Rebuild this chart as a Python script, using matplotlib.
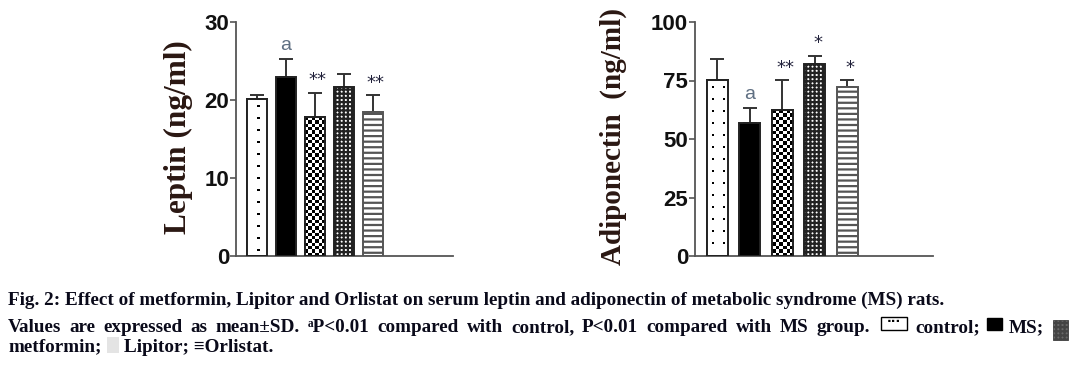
import numpy as np
import matplotlib
matplotlib.use("Agg")
import matplotlib.pyplot as plt
from matplotlib.patches import Rectangle

plt.rcParams["hatch.linewidth"] = 1.6

groups = ["control", "MS", "metformin", "Lipitor", "Orlistat"]
leptin = [20.1, 23.0, 17.8, 21.7, 18.5]
leptin_sd = [0.5, 2.3, 3.1, 1.6, 2.1]
leptin_marks = ["", "a", "**", "", "**"]
adipo = [75.1, 56.9, 62.3, 82.2, 72.3]
adipo_sd = [9.3, 6.4, 12.8, 3.2, 2.8]
adipo_marks = ["", "a", "**", "*", "*"]

W, H = 1071, 368
fig = plt.figure(figsize=(W / 100, H / 100), dpi=100)


def px_axes(x0, x1, y0, y1):
    return fig.add_axes([x0 / W, (H - y1) / H, (x1 - x0) / W, (y1 - y0) / H])


def bar_px(ax, bar):
    x, w, h = bar.get_x(), bar.get_width(), bar.get_height()
    (px0, py0), (px1, py1) = ax.transData.transform([(x, 0), (x + w, h)])
    return abs(px1 - px0), abs(py1 - py0)


def fill_image(ax, bar, img):
    x, w, h = bar.get_x(), bar.get_width(), bar.get_height()
    im = ax.imshow(img, cmap="gray", vmin=0, vmax=1, extent=(x, x + w, 0, h),
                   aspect="auto", interpolation="nearest", zorder=2)
    im.set_clip_path(bar)


def checker(ax, bar):
    # checkerboard, square cells about 3.4 px
    wp, hp = bar_px(ax, bar)
    ncol = 6
    nrow = int(round(hp / (wp / ncol)))
    fill_image(ax, bar, np.indices((nrow, ncol)).sum(axis=0) % 2)


def dots(ax, bar, ncol):
    # sparse small dots, one image pixel per screen pixel
    wp, hp = bar_px(ax, bar)
    wp, hp = int(round(wp)), int(round(hp))
    img = np.ones((hp, wp))
    cols = np.linspace(0, wp, ncol + 2)[1:-1] if ncol == 1 else \
        np.linspace(wp * 0.25, wp * 0.72, ncol)
    for r in range(6, hp - 2, 12):
        for c in cols:
            c = int(c)
            img[r:r + 2, c:c + 2] = 0
    fill_image(ax, bar, img)


def panel(ax, vals, sd, marks, ymax, yticks, label, width, mark_off, label_x, label_fs,
          dot_cols):
    x = np.arange(len(vals))
    ax.set_ylim(0, ymax)
    styles = [dict(color="white", hatch=None), dict(color="black", hatch=None),
              dict(color="white", hatch=None), dict(color="white", hatch="++++"),
              dict(color="white", hatch="---")]
    bars = []
    for i, (v, st) in enumerate(zip(vals, styles)):
        b = ax.bar(x[i], v, width=width, color=st["color"], hatch=st["hatch"],
                   edgecolor="#222222", linewidth=1.4, zorder=1 if i in (0, 2) else 3)
        bars.append(b[0])
    bars[4].set_edgecolor("#555555")
    dots(ax, bars[0], dot_cols)
    checker(ax, bars[2])
    for i in (0, 2):
        ax.add_patch(Rectangle((bars[i].get_x(), 0), bars[i].get_width(),
                               bars[i].get_height(), fill=False, edgecolor="#222222",
                               linewidth=1.4, zorder=3))
    ax.errorbar(x, vals, yerr=[np.zeros(len(sd)), sd], fmt="none", ecolor="#333333",
                elinewidth=1.4, capsize=5, capthick=1.4, zorder=2)
    for i, m in enumerate(marks):
        if not m:
            continue
        top = vals[i] + sd[i] + mark_off
        if m == "a":
            ax.text(x[i], top, m, ha="center", va="bottom", fontsize=14,
                    color="#5f6f82", family="Liberation Sans")
        else:
            ax.text(x[i] + 0.1, top - mark_off * 0.2, m, ha="center", va="bottom",
                    fontsize=13, color="#20203a", family="DejaVu Sans")
    ax.set_yticks(yticks)
    ax.set_xticks([])
    for s in ["top", "right"]:
        ax.spines[s].set_visible(False)
    for s in ["left", "bottom"]:
        ax.spines[s].set_color("#555555")
        ax.spines[s].set_linewidth(1.3)
    ax.tick_params(axis="y", length=4, width=1.2, color="#555555", pad=1,
                   labelsize=16)
    for t in ax.get_yticklabels():
        t.set_fontweight("bold")
        t.set_family("Liberation Sans")
        t.set_color("#111111")
    ax.set_ylabel(label, fontsize=label_fs, fontweight="bold", family="Liberation Serif",
                  color="#2a1712")
    ax.yaxis.set_label_coords(label_x, 0.51)


ax1 = px_axes(236, 453, 22, 256)
ax1.set_xlim(-0.72, 6.76)
panel(ax1, leptin, leptin_sd, leptin_marks, 30, [0, 10, 20, 30], "Leptin (ng/ml)",
      0.69, 0.6, -0.2, 22.5, 1)

ax2 = px_axes(695, 933, 22, 256)
ax2.set_xlim(-0.69, 6.65)
panel(ax2, adipo, adipo_sd, adipo_marks, 100, [0, 25, 50, 75, 100],
      "Adiponectin  (ng/ml)", 0.65, 2.0, -0.285, 21, 2)

# caption
cap = dict(family=["Liberation Serif", "DejaVu Serif"], fontweight="bold",
           fontsize=13.8, color="#0a0a1a", va="center", ha="left")


def fx(p):
    return p / W


def fy(p):
    return (H - p) / H


fig.text(fx(8), fy(300), "Fig. 2: Effect of metformin, Lipitor and Orlistat on serum leptin "
         "and adiponectin of metabolic syndrome (MS) rats.", **cap)

# justified second line
line2 = ("Values are expressed as mean\u00b1SD. \u1d43P<0.01 compared with control, "
         "P<0.01 compared with MS group.").split(" ")
fig.canvas.draw()
r = fig.canvas.get_renderer()
words = [fig.text(0, fy(328), w, **cap) for w in line2]
widths = [t.get_window_extent(r).width for t in words]
gap = (870 - 8 - sum(widths)) / (len(words) - 1)
xpos = 8
for t, w in zip(words, widths):
    t.set_x(fx(xpos))
    xpos += w + gap

fig.add_artist(Rectangle((fx(881), fy(330)), fx(26), 13 / H, transform=fig.transFigure,
                         facecolor="white", edgecolor="black", linewidth=1.0))
fig.text(fx(894), fy(321), "\u00b7\u00b7\u00b7", fontsize=9, ha="center", va="center",
         fontweight="bold")
fig.text(fx(915), fy(328), "control;", **cap)
fig.add_artist(Rectangle((fx(987), fy(330)), fx(15), 12 / H, transform=fig.transFigure,
                         facecolor="black", edgecolor="black"))
fig.text(fx(1009), fy(328), "MS;", **cap)
fig.add_artist(Rectangle((fx(1053), fy(340)), fx(15), 20 / H, transform=fig.transFigure,
                         facecolor="#6a6a6a", edgecolor="#444444", linewidth=0.6, hatch="++++"))

fig.text(fx(8), fy(347), "metformin;", **cap)
fig.add_artist(Rectangle((fx(107), fy(353)), fx(12), 16 / H, transform=fig.transFigure,
                         facecolor="#e4e4e4", edgecolor="none", hatch="...."))
fig.text(fx(124), fy(347), "Lipitor; \u2261Orlistat.", **cap)

fig.savefig("out.png", dpi=100)
